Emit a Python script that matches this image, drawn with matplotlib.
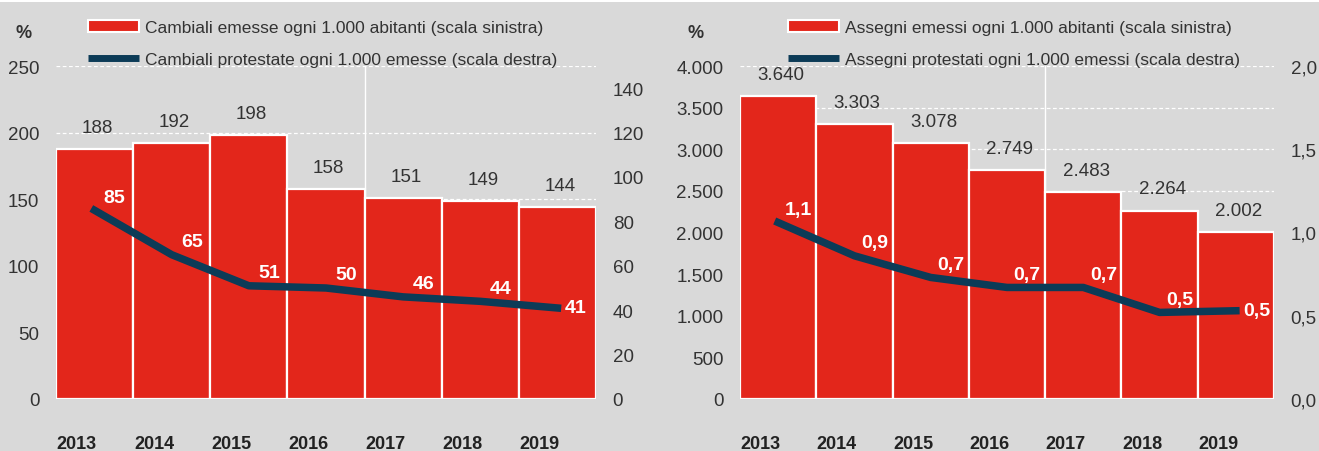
import matplotlib
matplotlib.use('Agg')
import matplotlib.pyplot as plt
from matplotlib.patches import Patch, Rectangle
from matplotlib.lines import Line2D
import numpy as np

# ---------------- data ----------------
years = ['2013', '2014', '2015', '2016', '2017', '2018', '2019']

cambiali_emesse = [188, 192, 198, 158, 151, 149, 144]          # left scale
cambiali_protestate = [85, 65, 51, 50, 46, 44, 41]             # right scale

assegni_emessi = [3640, 3303, 3078, 2749, 2483, 2264, 2002]    # left scale
assegni_protestati = [1.06, 0.86, 0.73, 0.67, 0.67, 0.52, 0.53]  # right scale

left_ticks_1 = [0, 50, 100, 150, 200, 250]
right_ticks_1 = [0, 20, 40, 60, 80, 100, 120, 140]
right_max_1 = 150
left_ticks_2 = [0, 500, 1000, 1500, 2000, 2500, 3000, 3500, 4000]
right_ticks_2 = [0.0, 0.5, 1.0, 1.5, 2.0]
right_max_2 = 2.0

legend_1 = ['Cambiali emesse ogni 1.000 abitanti (scala sinistra)',
            'Cambiali protestate ogni 1.000 emesse (scala destra)']
legend_2 = ['Assegni emessi ogni 1.000 abitanti (scala sinistra)',
            'Assegni protestati ogni 1.000 emessi (scala destra)']

# ---------------- style ----------------
RED = '#e3261b'
NAVY = '#0c3b57'
BG = '#d9d9d9'
TXT = '#333333'
W, H = 1319, 452

plt.rcParams['font.family'] = ['Liberation Sans', 'DejaVu Sans']

fig = plt.figure(figsize=(W / 100, H / 100), dpi=100, facecolor=BG)
fig.patches.append(Rectangle((0, 1 - 3 / H), 1, 3 / H, transform=fig.transFigure,
                             facecolor='white', edgecolor='none', zorder=0))


def thousands(v):
    return f'{int(v):,}'.replace(',', '.')


def dec1(v):
    return f'{v:.1f}'.replace('.', ',')


def panel(x0, x1, bars, line, lt, rt, rmax, lfmt, rfmt, bfmt, linefmt, labels,
          leg_x, pct_x):
    y_top, y_bot = 67, 400
    ax = fig.add_axes([x0 / W, (H - y_bot) / H, (x1 - x0) / W, (y_bot - y_top) / H])
    ax.set_facecolor(BG)
    x = np.arange(len(years))
    ax.bar(x, bars, width=1.0, color=RED, edgecolor='white', linewidth=1.6, zorder=2)
    ax.set_xlim(-0.5, len(years) - 0.5)
    ax.set_ylim(lt[0], lt[-1])
    ax.set_yticks(lt)
    ax.set_yticklabels([lfmt(t) for t in lt])
    ax.grid(axis='y', color='white', linewidth=0.9, linestyle=(0, (3, 2)), zorder=1)
    ax.axvline(3.5, color='white', linewidth=1.0, zorder=1)
    ax.set_axisbelow(True)
    ax.set_xticks(x - 0.23)
    ax.set_xticklabels(years, fontweight='bold', fontsize=13, color='#222222')
    ax.tick_params(axis='x', length=0, pad=26)
    ax.tick_params(axis='y', length=0, pad=12, labelsize=13.5, labelcolor=TXT)
    for s in ax.spines.values():
        s.set_visible(False)

    for i, v in enumerate(bars):
        ax.annotate(bfmt(v), (i, v), xytext=(2, 15.5), textcoords='offset points',
                    ha='center', va='center', fontsize=13.5, color=TXT, zorder=5)

    ax2 = ax.twinx()
    ax2.plot(x, line, color=NAVY, linewidth=5.4, solid_joinstyle='round', zorder=3)
    ax2.set_ylim(rt[0], rmax)
    ax2.set_yticks(rt)
    ax2.set_yticklabels([rfmt(t) for t in rt])
    ax2.tick_params(axis='y', length=0, pad=12, labelsize=13.5, labelcolor=TXT)
    for s in ax2.spines.values():
        s.set_visible(False)
    n = len(line)
    for i, v in enumerate(line):
        if i == n - 1:
            ax2.annotate(linefmt(v), (i, v), xytext=(5, 0), textcoords='offset points',
                         ha='left', va='center', fontsize=14, fontweight='bold',
                         color='white', zorder=6)
        else:
            ax2.annotate(linefmt(v), (i, v), xytext=(14.5, 9.5), textcoords='offset points',
                         ha='center', va='center', fontsize=14, fontweight='bold',
                         color='white', zorder=6)

    handles = [Patch(facecolor=RED, edgecolor='white', linewidth=1.5),
               Line2D([], [], color=NAVY, linewidth=5, solid_capstyle='butt')]
    fig.legend(handles, labels, loc='upper left', bbox_to_anchor=(leg_x / W, 1 - 21 / H),
               frameon=False, fontsize=12.5, handlelength=2.93, handletextpad=0.35,
               labelspacing=0.95, borderaxespad=0, borderpad=0, labelcolor=TXT)
    fig.text(pct_x / W, 1 - 33 / H, '%', ha='center', va='center', fontsize=13,
             fontweight='bold', color=TXT)
    return ax, ax2


panel(56, 596, cambiali_emesse, cambiali_protestate, left_ticks_1, right_ticks_1,
      right_max_1, lambda t: str(int(t)), lambda t: str(int(t)), thousands,
      lambda v: str(int(v)), legend_1, 88, 24)
panel(740, 1274, assegni_emessi, assegni_protestati, left_ticks_2, right_ticks_2,
      right_max_2, thousands, dec1, thousands, dec1, legend_2, 788, 696)

fig.savefig('out.png', dpi=100, facecolor=BG)
